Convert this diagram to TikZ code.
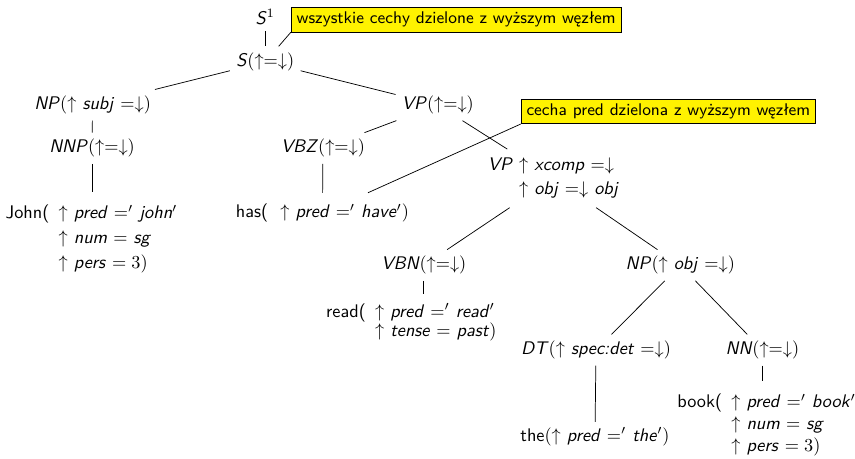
\documentclass[tikz,border=0pt]{standalone}
\renewcommand{\familydefault}{\sfdefault}
\newcommand{\ft}[1]{\textit{#1}}

\begin{document}
\begin{tikzpicture}[
    note/.style={draw, fill=yellow, inner xsep=3pt, inner ysep=2.6pt,
        font=\fontsize{9.25pt}{11pt}\selectfont},
    leaf/.style={inner ysep=6pt}]
    \useasboundingbox (0,0) rectangle (16.44,-8.81);

    \node (S1) at (5.10,-0.33) {\ft{S}$^1$};
    \node[note] (note1) at (8.77,-0.375) {wszystkie cechy dzielone z wyższym węzłem};
    \node (S) at (5.10,-1.19) {\ft{S}$(\uparrow=\downarrow)$};

    \node (NP) at (1.78,-2.02) {\ft{NP}$(\uparrow$ \ft{subj} $=\downarrow)$};
    \node (VP) at (8.42,-2.02) {\ft{VP}$(\uparrow=\downarrow)$};
    \node[note] (note2) at (12.85,-2.14) {cecha pred dzielona z wyższym węzłem};

    \node (NNP) at (1.77,-2.85) {\ft{NNP}$(\uparrow=\downarrow)$};
    \node (VBZ) at (6.21,-2.85) {\ft{VBZ}$(\uparrow=\downarrow)$};
    \node (VPx) at (10.64,-3.43) {\begin{tabular}{@{}l@{\ }l@{}}
        \ft{VP} & $\uparrow$ \ft{xcomp} $=\downarrow$ \\[1pt]
                & $\uparrow$ \ft{obj} $=\downarrow$ \ft{obj}
    \end{tabular}};

    \node[leaf] (John) at (1.76,-4.60) {\begin{tabular}{@{}l@{\ \,}l@{}}
        John( & $\uparrow$ \ft{pred} $='$\ \ft{john}$'$ \\[1.5pt]
              & $\uparrow$ \ft{num} $=$ \ft{sg} \\[1.5pt]
              & $\uparrow$ \ft{pers} $=3)$
    \end{tabular}};
    \node[leaf] (has) at (6.20,-4.10) {has( \ $\uparrow$ \ft{pred} $='$\ \ft{have}$')$};

    \node (VBN) at (8.15,-5.10) {\ft{VBN}$(\uparrow=\downarrow)$};
    \node (NPo) at (13.08,-5.10) {\ft{NP}$(\uparrow$ \ft{obj} $=\downarrow)$};
    \node[leaf, inner ysep=4pt] (read) at (7.91,-6.20) {\begin{tabular}{@{}l@{\ \,}l@{}}
        read( & $\uparrow$ \ft{pred} $='$\ \ft{read}$'$ \\[-1.5pt]
              & $\uparrow$ \ft{tense} $=$ \ft{past}$)$
    \end{tabular}};

    \node (DT) at (11.46,-6.73) {\ft{DT}$(\uparrow$ \ft{spec:det} $=\downarrow)$};
    \node (NN) at (14.66,-6.73) {\ft{NN}$(\uparrow=\downarrow)$};
    \node[leaf, inner ysep=3pt] (the) at (11.44,-8.40) {the$(\uparrow$ \ft{pred} $='$\ \ft{the}$')$};
    \node[leaf] (book) at (14.74,-8.18) {\begin{tabular}{@{}l@{\ \,}l@{}}
        book( & $\uparrow$ \ft{pred} $='$\ \ft{book}$'$ \\
              & $\uparrow$ \ft{num} $=$ \ft{sg} \\
              & $\uparrow$ \ft{pers} $=3)$
    \end{tabular}};

    \draw (S1) -- (S);
    \draw (note1.south west) -- (S);
    \draw (S) -- (NP);
    \draw (S) -- (VP);
    \draw (NP) -- (NNP);
    \draw (NNP) -- (NNP |- John.north);
    \draw (VP) -- (VBZ);
    \draw (VBZ) -- (has);
    \draw (note2.south west) -- (has);
    \draw (VP) -- (VPx);
    \draw (VPx) -- (VBN);
    \draw (VBN) -- (VBN |- read.north);
    \draw (VPx) -- (NPo);
    \draw (NPo) -- (DT);
    \draw (NPo) -- (NN);
    \draw (DT) -- (the);
    \draw (NN) -- (NN |- book.north);
\end{tikzpicture}
\end{document}
